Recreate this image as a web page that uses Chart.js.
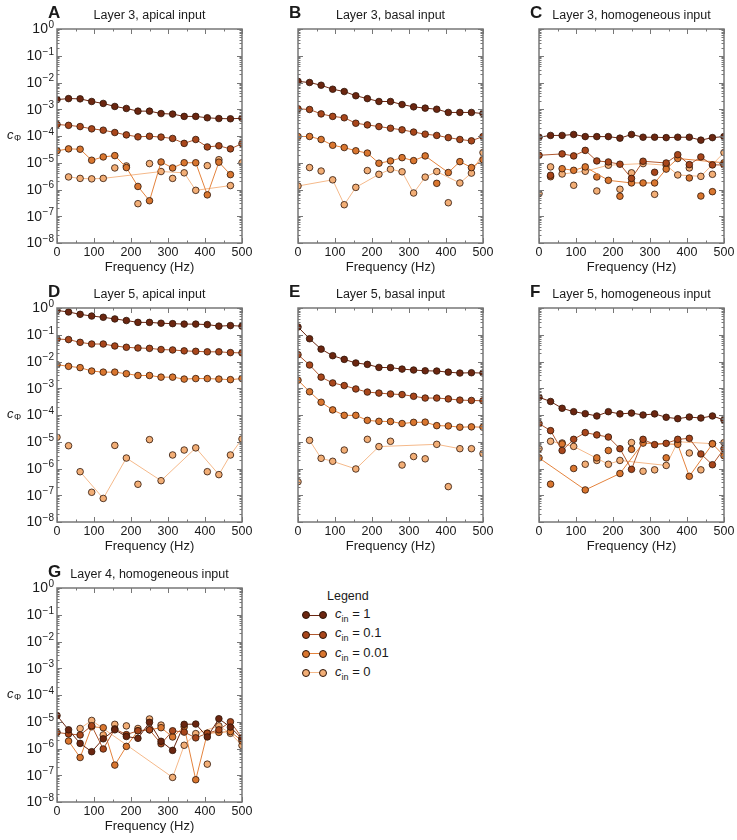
<!DOCTYPE html>
<html>
<head>
<meta charset="utf-8">
<script src="https://cdn.jsdelivr.net/npm/chart.js@4.4.1/dist/chart.umd.min.js"></script>
<style>
  body { margin: 0; background: #fff; width: 737px; height: 840px; position: relative; overflow: hidden;
         font-family: "Liberation Sans", Arial, sans-serif; color: #1a1a1a; }
  canvas { position: absolute; }
  .lg { position: absolute; font-size: 13px; }
  .lg-line { position: absolute; height: 1px; width: 18px; }
  .lg-dot { position: absolute; width: 6px; height: 6px; border-radius: 50%; border: 0.8px solid #2d1408; }
</style>
</head>
<body>
<canvas id="pA" width="256" height="277" style="left:0px;top:0px"></canvas>
<canvas id="pB" width="256" height="277" style="left:241px;top:0px"></canvas>
<canvas id="pC" width="256" height="277" style="left:482px;top:0px"></canvas>
<canvas id="pD" width="256" height="277" style="left:0px;top:279px"></canvas>
<canvas id="pE" width="256" height="277" style="left:241px;top:279px"></canvas>
<canvas id="pF" width="256" height="277" style="left:482px;top:279px"></canvas>
<canvas id="pG" width="256" height="277" style="left:0px;top:559px"></canvas>
<div id="legend"></div>

<script>
// frequencies (Hz)
const freqs = [0, 31.25, 62.5, 93.75, 125, 156.25, 187.5, 218.75, 250, 281.25, 312.5, 343.75, 375, 406.25, 437.5, 468.75, 500];
const seriesNames = ["1", "0.1", "0.01", "0"];

// Layer 3, apical
const A_c1   = [2.3e-3, 2.5e-3, 2.45e-3, 1.95e-3, 1.65e-3, 1.27e-3, 1.07e-3, 8.5e-4, 8.5e-4, 6.9e-4, 6.6e-4, 5.4e-4, 5.4e-4, 4.8e-4, 4.5e-4, 4.4e-4, 4.6e-4];
const A_c01  = [2.7e-4, 2.5e-4, 2.25e-4, 1.85e-4, 1.65e-4, 1.35e-4, 1.1e-4, 9.3e-5, 9.8e-5, 9.1e-5, 8.1e-5, 5.3e-5, 7.4e-5, 3.9e-5, 4.3e-5, 3.3e-5, 5.2e-5];
const A_c001 = [2.8e-5, 3.3e-5, 3.2e-5, 1.24e-5, 1.65e-5, 1.85e-5, 6.6e-6, 1.3e-6, 3.8e-7, 1.07e-5, 6.4e-6, 1.0e-5, 1.0e-5, 6.3e-7, 1.05e-5, 3.6e-6, null];
const A_c0   = [null, 2.95e-6, 2.6e-6, 2.5e-6, 2.6e-6, 6.4e-6, 7.6e-6, 2.95e-7, 9.3e-6, 4.7e-6, 2.6e-6, 4.2e-6, 9.3e-7, 7.8e-6, 1.3e-5, 1.4e-6, 1.0e-5];
const A_lone = [[], [], [], [5, 6, 7, 8, 10, 13, 14, 16]];

// Layer 3, basal
const B_c1   = [1.1e-2, 1.0e-2, 7.9e-3, 5.6e-3, 4.6e-3, 3.2e-3, 2.5e-3, 1.95e-3, 1.95e-3, 1.5e-3, 1.23e-3, 1.1e-3, 1.0e-3, 7.6e-4, 7.6e-4, 7.6e-4, 6.9e-4];
const B_c01  = [1.04e-3, 9.8e-4, 6.7e-4, 5.4e-4, 4.8e-4, 3.0e-4, 2.6e-4, 2.25e-4, 1.95e-4, 1.7e-4, 1.4e-4, 1.17e-4, 1.05e-4, 8.7e-5, 7.4e-5, 6.6e-5, 9.6e-5];
const B_c001 = [9.6e-5, 9.6e-5, 7.4e-5, 4.5e-5, 3.7e-5, 2.8e-5, 2.3e-5, 9.6e-6, 1.17e-5, 1.55e-5, 1.2e-5, 1.8e-5, 1.7e-6, 4.3e-6, 1.1e-5, 6.6e-6, 1.3e-5];
const B_c0   = [1.35e-6, 6.6e-6, 4.9e-6, 2.3e-6, 2.7e-7, 1.2e-6, 5.1e-6, 3.7e-6, 5.7e-6, 4.6e-6, 7.4e-7, 2.9e-6, 4.7e-6, 3.2e-7, 1.75e-6, 4.1e-6, 2.4e-5];
const B_lone = [[], [], [12], [1, 2, 6, 13]];

// Layer 3, homogeneous
const C_c1   = [9.0e-5, 1.05e-4, 1.05e-4, 1.14e-4, 9.5e-5, 9.5e-5, 9.5e-5, 8.3e-5, 1.14e-4, 9.0e-5, 9.0e-5, 8.7e-5, 9.0e-5, 9.0e-5, 7.0e-5, 8.7e-5, 9.5e-5];
const C_c01  = [1.9e-5, 3.4e-6, 2.14e-5, 1.8e-5, 2.9e-5, 1.17e-5, 1.07e-5, 8.8e-6, 2.6e-6, 1.14e-5, 4.4e-6, 9.8e-6, 2.0e-5, 8.5e-6, 1.65e-5, 8.3e-6, 8.3e-6];
const C_c001 = [null, 3.0e-6, 6.0e-6, 5.2e-6, 7.0e-6, 2.95e-6, 2.2e-6, 5.6e-7, 1.76e-6, 1.76e-6, 1.76e-6, 5.8e-6, 1.44e-5, 2.7e-6, 5.7e-7, 8.3e-7, 1.0e-5];
const C_c0   = [7.0e-7, 7.0e-6, 3.8e-6, 1.44e-6, 4.8e-6, 8.8e-7, 8.1e-6, 1.02e-6, 4.2e-6, 9.3e-6, 6.6e-7, 8.1e-6, 3.5e-6, 6.4e-6, 3.1e-6, 3.7e-6, 2.4e-5];
const C_lone = [[], [1, 10], [1, 5, 7, 13, 14, 15], [0, 1, 3, 5, 7, 8, 10, 13, 15]];

// Layer 5, apical
const D_c1   = [0.81, 0.71, 0.58, 0.50, 0.45, 0.39, 0.34, 0.29, 0.29, 0.27, 0.26, 0.25, 0.25, 0.24, 0.21, 0.22, 0.21];
const D_c01  = [6.9e-2, 6.6e-2, 5.2e-2, 4.5e-2, 4.5e-2, 3.8e-2, 3.4e-2, 3.2e-2, 3.1e-2, 2.8e-2, 2.7e-2, 2.5e-2, 2.4e-2, 2.3e-2, 2.3e-2, 2.15e-2, 2.1e-2];
const D_c001 = [7.6e-3, 6.6e-3, 5.9e-3, 4.4e-3, 4.0e-3, 4.0e-3, 3.5e-3, 3.0e-3, 3.0e-3, 2.6e-3, 2.6e-3, 2.2e-3, 2.3e-3, 2.3e-3, 2.2e-3, 2.1e-3, 2.3e-3];
const D_c0   = [1.47e-5, 7.1e-6, 7.6e-7, 1.29e-7, 7.6e-8, 7.3e-6, 2.46e-6, 2.57e-7, 1.2e-5, 3.5e-7, 3.2e-6, 4.9e-6, 5.9e-6, 7.6e-7, 5.9e-7, 3.2e-6, 1.27e-5];
const D_lone = [[], [], [], [0, 1, 3, 5, 7, 8, 10, 11, 13]];

// Layer 5, basal
const E_c1   = [0.195, 7.1e-2, 2.9e-2, 1.65e-2, 1.2e-2, 8.8e-3, 7.8e-3, 6.0e-3, 5.9e-3, 5.2e-3, 4.8e-3, 4.5e-3, 4.4e-3, 4.0e-3, 3.7e-3, 3.8e-3, 3.7e-3];
const E_c01  = [1.8e-2, 7.4e-3, 2.6e-3, 1.58e-3, 1.26e-3, 9.4e-4, 7.2e-4, 6.6e-4, 6.1e-4, 5.8e-4, 5.0e-4, 4.3e-4, 4.3e-4, 4.0e-4, 3.6e-4, 3.5e-4, 3.4e-4];
const E_c001 = [2.0e-3, 7.4e-4, 3.0e-4, 1.55e-4, 9.7e-5, 9.7e-5, 6.3e-5, 5.8e-5, 5.7e-5, 4.8e-5, 5.3e-5, 5.4e-5, 4.0e-5, 3.9e-5, 3.5e-5, 3.6e-5, 3.5e-5];
const E_c0   = [3.2e-7, 1.13e-5, 2.4e-6, 1.86e-6, 4.9e-6, 9.6e-7, 1.23e-5, 6.6e-6, 1.04e-5, 1.35e-6, 2.8e-6, 2.3e-6, 8.0e-6, 2.1e-7, 5.5e-6, 5.5e-6, 3.6e-6];
const E_lone = [[], [], [], [0, 4, 6, 8, 9, 10, 11, 13, 15, 16]];

// Layer 5, homogeneous
const F_c1   = [4.6e-4, 3.2e-4, 1.78e-4, 1.33e-4, 1.12e-4, 9.2e-5, 1.33e-4, 1.1e-4, 1.18e-4, 1.0e-4, 1.1e-4, 8.2e-5, 7.3e-5, 8.4e-5, 7.7e-5, 9.2e-5, 6.5e-5];
const F_c01  = [4.8e-5, 2.6e-5, 4.7e-6, 1.23e-5, 2.2e-5, 1.8e-5, 1.5e-5, 5.5e-6, 9.3e-7, 1.23e-5, 7.8e-6, 8.7e-6, 1.23e-5, 1.34e-5, 3.5e-6, 1.38e-6, 5.5e-6];
const F_c001 = [2.5e-6, 2.6e-7, 8.3e-6, 1.0e-6, 1.58e-7, 2.5e-6, 4.7e-6, 6.5e-7, 5.2e-6, 8.9e-6, null, 2.5e-6, 8.0e-6, 5.1e-7, null, 8.3e-6, 3.0e-6];
const F_c0   = [5.5e-6, 1.04e-5, 9.0e-6, 6.7e-6, 1.44e-6, 2.0e-6, 1.44e-6, 2.0e-6, 9.3e-6, 7.9e-7, 8.9e-7, 1.3e-6, 1.0e-5, 3.8e-6, 8.9e-7, 8.5e-6, 9.3e-6];
const F_lone = [[], [], [1, 2, 3, 5, 6, 8, 11], [0, 2, 4, 5, 8, 9, 10, 13, 14, 16]];

// Layer 4, homogeneous
const G_c1   = [1.7e-5, 5.0e-6, 1.55e-6, 7.6e-7, 2.3e-6, 5.0e-6, 2.8e-6, 2.4e-6, 9.5e-6, 1.86e-6, 8.5e-7, 8.0e-6, 8.2e-6, 2.7e-6, 1.3e-5, 6.3e-6, 2.3e-6];
const G_c01  = [4.0e-6, 3.5e-6, 3.2e-6, 7.1e-6, 9.6e-7, 5.4e-6, 3.3e-6, 4.6e-6, 5.0e-6, 1.5e-6, 4.6e-6, 4.1e-6, 2.5e-6, 3.7e-6, 5.0e-6, 1.0e-5, 2.5e-6];
const G_c001 = [null, 1.9e-6, 4.6e-7, 6.5e-6, 6.0e-6, 2.4e-7, 1.2e-6, 4.6e-6, 5.0e-6, 6.0e-6, 2.7e-6, 6.5e-6, 6.8e-8, 3.7e-6, 4.0e-6, 4.3e-6, 1.9e-6];
const G_c0   = [null, null, 5.6e-6, 1.12e-5, 3.2e-6, 8.0e-6, 7.0e-6, 5.6e-6, 1.27e-5, 7.5e-6, 8.3e-8, 1.32e-6, 3.6e-6, 2.6e-7, 7.0e-6, 3.7e-6, 1.3e-6];
const G_lone = [[], [], [], [4, 5, 6, 7, 8, 9, 13]];

const xTicks = [0, 100, 200, 300, 400, 500];
const yDecades = [1e-8, 1e-7, 1e-6, 1e-5, 1e-4, 1e-3, 1e-2, 1e-1, 1];

const panels = [
  { id: "pA", letter: "A", title: "Layer 3, apical input", yAxis: true, vals: [A_c1, A_c01, A_c001, A_c0], lone: A_lone },
  { id: "pB", letter: "B", title: "Layer 3, basal input", yAxis: false, vals: [B_c1, B_c01, B_c001, B_c0], lone: B_lone },
  { id: "pC", letter: "C", title: "Layer 3, homogeneous input", yAxis: false, vals: [C_c1, C_c01, C_c001, C_c0], lone: C_lone },
  { id: "pD", letter: "D", title: "Layer 5, apical input", yAxis: true, vals: [D_c1, D_c01, D_c001, D_c0], lone: D_lone },
  { id: "pE", letter: "E", title: "Layer 5, basal input", yAxis: false, vals: [E_c1, E_c01, E_c001, E_c0], lone: E_lone },
  { id: "pF", letter: "F", title: "Layer 5, homogeneous input", yAxis: false, vals: [F_c1, F_c01, F_c001, F_c0], lone: F_lone },
  { id: "pG", letter: "G", title: "Layer 4, homogeneous input", yAxis: true, vals: [G_c1, G_c01, G_c001, G_c0], lone: G_lone }
];

// styles
const FONT = "'Liberation Sans', Arial, sans-serif";
const fillCols = ["#6b2610", "#a8461b", "#d9762f", "#f2ae76"];
const lineCols = ["#6b2610", "#b0582f", "#e4833d", "#f5b98a"];
const edgeCol = "#2d1408";
const frameCol = "#777777";

Chart.defaults.font.family = FONT;

// frame, inward ticks, y labels, panel letter and title
const panelDecor = {
  id: "panelDecor",
  afterDatasetsDraw(chart, args, opts) {
    const { ctx, chartArea: a, scales: { x, y } } = chart;
    ctx.save();
    ctx.strokeStyle = frameCol;
    ctx.lineWidth = 1;
    ctx.beginPath();
    // y ticks (major + minor, both sides)
    yDecades.forEach(d => {
      for (let m = 1; m <= 9; m++) {
        if (d === 1 && m > 1) break;
        const py = Math.round(y.getPixelForValue(m * d)) + 0.5;
        const len = m === 1 ? 5 : 2.5;
        ctx.moveTo(a.left, py); ctx.lineTo(a.left + len, py);
        ctx.moveTo(a.right, py); ctx.lineTo(a.right - len, py);
      }
    });
    // x ticks
    for (let v = 0; v <= 500; v += 50) {
      const px = Math.round(x.getPixelForValue(v)) + 0.5;
      const len = v % 100 === 0 ? 5 : 2.5;
      ctx.moveTo(px, a.bottom); ctx.lineTo(px, a.bottom - len);
      ctx.moveTo(px, a.top); ctx.lineTo(px, a.top + len);
    }
    ctx.stroke();
    ctx.lineWidth = 1.5;
    ctx.strokeRect(a.left, a.top, a.right - a.left, a.bottom - a.top);

    ctx.fillStyle = "#1a1a1a";
    if (opts.yAxis) {
      yDecades.forEach(d => {
        const py = y.getPixelForValue(d);
        const e = Math.round(Math.log10(d));
        const expTxt = e === 0 ? "0" : "\u2212" + (-e);
        ctx.font = "10px " + FONT;
        const ew = ctx.measureText(expTxt).width;
        const xr = a.left - 3;
        ctx.textAlign = "left";
        ctx.textBaseline = "middle";
        ctx.fillText(expTxt, xr - ew, py - 4);
        ctx.font = "14px " + FONT;
        ctx.textAlign = "right";
        ctx.fillText("10", xr - ew - 0.5, py + 0.5);
      });
      const cy = (a.top + a.bottom) / 2;
      ctx.textAlign = "left";
      ctx.textBaseline = "alphabetic";
      ctx.font = "italic 13px " + FONT;
      ctx.fillText("c", a.left - 50, cy + 3);
      ctx.font = "9px " + FONT;
      ctx.fillText("\u03A6", a.left - 43, cy + 5);
    }
    ctx.textBaseline = "alphabetic";
    ctx.textAlign = "left";
    ctx.font = "bold 17px " + FONT;
    ctx.fillText(opts.letter, a.left - 9, a.top - 11);
    ctx.textAlign = "center";
    ctx.textBaseline = "middle";
    ctx.font = "12.5px " + FONT;
    ctx.fillText(opts.title, (a.left + a.right) / 2, a.top - 13);
    ctx.restore();
  }
};

function buildSets(vals, lone) {
  const sets = [];
  vals.forEach((arr, k) => {
    const style = {
      borderColor: lineCols[k], borderWidth: 1, backgroundColor: fillCols[k],
      pointBackgroundColor: fillCols[k], pointBorderColor: edgeCol, pointBorderWidth: 0.8,
      pointRadius: 3.3, order: k
    };
    const linked = freqs.map((f, i) => ({ x: f, y: lone[k].includes(i) ? null : arr[i] }));
    sets.push(Object.assign({ label: "c_in = " + seriesNames[k], data: linked, spanGaps: true }, style));
    if (lone[k].length) {
      const pts = lone[k].map(i => ({ x: freqs[i], y: arr[i] }));
      sets.push(Object.assign({ label: "c_in = " + seriesNames[k] + " (unlinked)", data: pts, showLine: false }, style));
    }
  });
  return sets;
}

panels.forEach(p => {
  new Chart(document.getElementById(p.id), {
    type: "line",
    data: { datasets: buildSets(p.vals, p.lone) },
    plugins: [panelDecor],
    options: {
      responsive: false,
      animation: false,
      layout: { padding: { top: 29, right: 14, left: 0, bottom: 0 } },
      plugins: {
        legend: { display: false },
        tooltip: { enabled: false },
        panelDecor: { letter: p.letter, title: p.title, yAxis: p.yAxis }
      },
      scales: {
        x: {
          type: "linear", min: 0, max: 500,
          afterBuildTicks: s => { s.ticks = xTicks.map(v => ({ value: v })); },
          ticks: { padding: 2, color: "#1a1a1a", font: { size: 12.5 }, maxRotation: 0 },
          grid: { display: false, drawTicks: false },
          border: { display: false },
          title: { display: true, text: "Frequency (Hz)", color: "#1a1a1a", font: { size: 13 }, padding: { top: 0, bottom: 2 } },
          afterFit: s => { s.height = 34; }
        },
        y: {
          type: "logarithmic", min: 1e-8, max: 1,
          afterBuildTicks: s => { s.ticks = yDecades.map(v => ({ value: v })); },
          ticks: { display: false },
          grid: { display: false, drawTicks: false },
          border: { display: false },
          afterFit: s => { s.width = 57; }
        }
      }
    }
  });
});

// legend
const lgBox = document.getElementById("legend");
const lgTop = 615, lgGap = 19.3;
let html = '<div class="lg" style="left:327px;top:589px;font-size:12.5px">Legend</div>';
seriesNames.forEach((name, k) => {
  const cy = lgTop + k * lgGap;
  html += '<div class="lg-line" style="left:306px;top:' + (cy - 0.5) + 'px;background:' + lineCols[k] + '"></div>';
  html += '<div class="lg-dot" style="left:302px;top:' + (cy - 3.8) + 'px;background:' + fillCols[k] + '"></div>';
  html += '<div class="lg-dot" style="left:319px;top:' + (cy - 3.8) + 'px;background:' + fillCols[k] + '"></div>';
  html += '<div class="lg" style="left:335px;top:' + (cy - 9) + 'px"><i>c</i><sub style="font-size:9px">in</sub> = ' + name + '</div>';
});
lgBox.innerHTML = html;
</script>
</body>
</html>
